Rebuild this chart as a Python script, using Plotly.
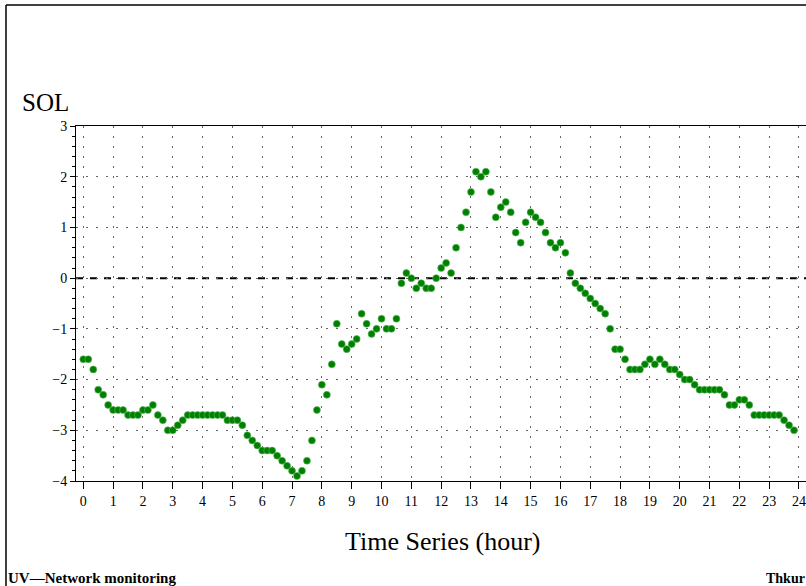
'''
    Scatter plot of the SOL index over one day (10 minute samples).
'''
import plotly.graph_objects as go

# sample times, minutes after midnight
minutes = [0, 10, 20, 30, 40, 50, 60, 70, 80, 90, 100, 110,
           120, 130, 140, 150, 160, 170, 180, 190, 200, 210, 220, 230,
           240, 250, 260, 270, 280, 290, 300, 310, 320, 330, 340, 350,
           360, 370, 380, 390, 400, 410, 420, 430, 440, 450, 460, 470,
           480, 490, 500, 510, 520, 530, 540, 550, 560, 570, 580, 590,
           600, 610, 620, 630, 640, 650, 660, 670, 680, 690, 700, 710,
           720, 730, 740, 750, 760, 770, 780, 790, 800, 810, 820, 830,
           840, 850, 860, 870, 880, 890, 900, 910, 920, 930, 940, 950,
           960, 970, 980, 990, 1000, 1010, 1020, 1030, 1040, 1050, 1060, 1070,
           1080, 1090, 1100, 1110, 1120, 1130, 1140, 1150, 1160, 1170, 1180, 1190,
           1200, 1210, 1220, 1230, 1240, 1250, 1260, 1270, 1280, 1290, 1300, 1310,
           1320, 1330, 1340, 1350, 1360, 1370, 1380, 1390, 1400, 1410, 1420, 1430]

sol = [-1.6, -1.6, -1.8, -2.2, -2.3, -2.5, -2.6, -2.6, -2.6, -2.7, -2.7, -2.7,
       -2.6, -2.6, -2.5, -2.7, -2.8, -3.0, -3.0, -2.9, -2.8, -2.7, -2.7, -2.7,
       -2.7, -2.7, -2.7, -2.7, -2.7, -2.8, -2.8, -2.8, -2.9, -3.1, -3.2, -3.3,
       -3.4, -3.4, -3.4, -3.5, -3.6, -3.7, -3.8, -3.9, -3.8, -3.6, -3.2, -2.6,
       -2.1, -2.3, -1.7, -0.9, -1.3, -1.4, -1.3, -1.2, -0.7, -0.9, -1.1, -1.0,
       -0.8, -1.0, -1.0, -0.8, -0.1, 0.1, 0.0, -0.2, -0.1, -0.2, -0.2, 0.0,
       0.2, 0.3, 0.1, 0.6, 1.0, 1.3, 1.7, 2.1, 2.0, 2.1, 1.7, 1.2,
       1.4, 1.5, 1.3, 0.9, 0.7, 1.1, 1.3, 1.2, 1.1, 0.9, 0.7, 0.6,
       0.7, 0.5, 0.1, -0.1, -0.2, -0.3, -0.4, -0.5, -0.6, -0.7, -1.0, -1.4,
       -1.4, -1.6, -1.8, -1.8, -1.8, -1.7, -1.6, -1.7, -1.6, -1.7, -1.8, -1.8,
       -1.9, -2.0, -2.0, -2.1, -2.2, -2.2, -2.2, -2.2, -2.2, -2.3, -2.5, -2.5,
       -2.4, -2.4, -2.5, -2.7, -2.7, -2.7, -2.7, -2.7, -2.7, -2.8, -2.9, -3.0]

hour_ticks = list(range(0, 25))
sol_ticks = [3, 2, 1, 0, -1, -2, -3, -4]

WIDTH = 806
HEIGHT = 586
LEFT, RIGHT, TOP, BOTTOM = 76, 806, 126, 481
FONT = 'Liberation Serif'


def px(x):
    '''Pixel column -> paper x.'''
    return (x - LEFT) / (RIGHT - LEFT)


def py(y):
    '''Pixel row -> paper y.'''
    return (BOTTOM - y) / (BOTTOM - TOP)


def get_plot():
    hours = [m / 60 for m in minutes]
    fig = go.Figure()
    fig.add_trace(go.Scatter(
        x=hours, y=sol, mode='markers',
        marker=dict(size=7, color='#008000',
                    line=dict(width=0.6, color='#5fb85f')),
        hoverinfo='x+y'))

    grid = dict(showgrid=True, gridcolor='#666666', gridwidth=1,
                griddash='2px,8px', zeroline=False,
                showline=True, linecolor='black', linewidth=1,
                ticks='outside', tickcolor='black', tickwidth=1,
                tickfont=dict(family=FONT, size=14, color='black'))

    fig.update_xaxes(range=[-0.245, 24.235], tickvals=hour_ticks,
                     ticklen=7, mirror=True, **grid)
    fig.update_yaxes(range=[-4, 3], tickvals=sol_ticks, ticklen=5,
                     minor=dict(dtick=0.2, ticks='outside', ticklen=3,
                                tickcolor='black', showgrid=False),
                     **grid)

    # dashed zero line
    fig.add_shape(type='line', xref='paper', yref='y', x0=0, x1=1,
                  y0=0, y1=0, layer='below',
                  line=dict(color='black', width=2, dash='7px,7px'))

    # page frame (left and top)
    fig.add_shape(type='line', xref='paper', yref='paper',
                  x0=px(6), x1=px(6), y0=py(5), y1=py(600),
                  line=dict(color='black', width=1.5))
    fig.add_shape(type='line', xref='paper', yref='paper',
                  x0=px(6), x1=px(820), y0=py(5), y1=py(5),
                  line=dict(color='black', width=1.5))

    notes = [
        dict(text='SOL', x=px(45), y=py(102), size=25, xanchor='center'),
        dict(text='Time Series (hour)', x=px(442), y=py(541), size=26,
             xanchor='center'),
        dict(text='<b>UV\u2014Network monitoring</b>', x=px(6), y=py(578),
             size=15, xanchor='left'),
        dict(text='<b>Thkur</b>', x=px(764), y=py(578), size=14,
             xanchor='left'),
    ]
    for n in notes:
        fig.add_annotation(text=n['text'], x=n['x'], y=n['y'],
                           xref='paper', yref='paper', showarrow=False,
                           xanchor=n['xanchor'], yanchor='middle',
                           font=dict(family=FONT, size=n['size'],
                                     color='black'))

    fig.update_layout(
        width=WIDTH, height=HEIGHT,
        margin=dict(l=LEFT, r=WIDTH - RIGHT, t=TOP, b=HEIGHT - BOTTOM,
                    pad=0),
        plot_bgcolor='white', paper_bgcolor='white',
        showlegend=False,
        font=dict(family=FONT, color='black'),
    )
    return fig


fig = get_plot()
# drop the default page margin so the figure sits at the window corner
fig.write_html('out.html', config={'displayModeBar': False},
               post_script="document.body.style.margin='0';")
